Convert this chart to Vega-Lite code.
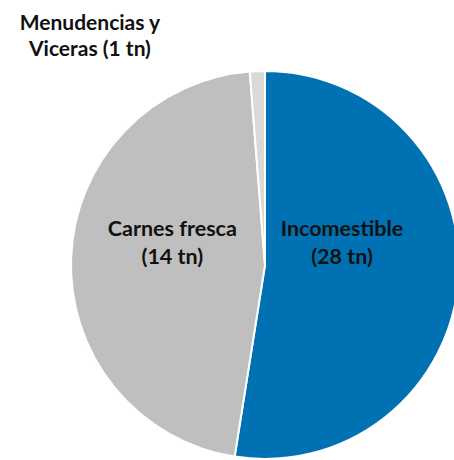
{
  "$schema": "https://vega.github.io/schema/vega-lite/v6.json",
  "width": 378,
  "height": 390,
  "autosize": "none",
  "padding": {"left": 76, "top": 70, "right": 0, "bottom": 0},
  "background": "white",
  "config": {"view": {"stroke": null}},
  "data": {
    "values": [
      {"idx": 1, "category": "Incomestible", "share": 52.5, "label": ["Incomestible", "(28 tn)"]},
      {"idx": 2, "category": "Carnes fresca", "share": 46.25, "label": ["Carnes fresca", "(14 tn)"]},
      {"idx": 3, "category": "Menudencias y Viceras", "share": 1.25, "label": ["Menudencias y", "Viceras (1 tn)"]}
    ]
  },
  "transform": [
    {"stack": "share", "groupby": [], "sort": [{"field": "idx"}], "as": ["t0", "t1"]}
  ],
  "layer": [
    {
      "mark": {"type": "arc", "radius": 194, "stroke": "white", "strokeWidth": 2},
      "encoding": {
        "theta": {"field": "t0", "type": "quantitative", "scale": {"domain": [0, 100]}},
        "theta2": {"field": "t1"},
        "color": {
          "field": "category",
          "type": "nominal",
          "scale": {"domain": ["Incomestible", "Carnes fresca", "Menudencias y Viceras"], "range": ["#0071B3", "#BFBFBF", "#D9D9D9"]},
          "legend": null
        }
      }
    },
    {
      "transform": [{"filter": "datum.idx == 1"}],
      "mark": {"type": "text", "radius": 21, "dx": 77, "dy": -14, "font": "Lato", "fontWeight": "bold", "fontSize": 21.5, "lineHeight": 28, "align": "center", "baseline": "middle", "color": "#111111"},
      "encoding": {
        "theta": {"field": "t0", "type": "quantitative", "stack": null, "scale": {"domain": [0, 100]}},
        "text": {"field": "label"}
      }
    },
    {
      "transform": [{"filter": "datum.idx == 2"}],
      "mark": {"type": "text", "radius": 21, "dx": -91, "dy": -14, "font": "Lato", "fontWeight": "bold", "fontSize": 21.5, "lineHeight": 28, "align": "center", "baseline": "middle", "color": "#111111"},
      "encoding": {
        "theta": {"field": "t1", "type": "quantitative", "stack": null, "scale": {"domain": [0, 100]}},
        "text": {"field": "label"}
      }
    },
    {
      "transform": [{"filter": "datum.idx == 3"}],
      "mark": {"type": "text", "radius": 230, "dx": -157, "dy": -12, "font": "Lato", "fontWeight": "bold", "fontSize": 21, "lineHeight": 26, "align": "center", "baseline": "middle", "color": "#111111"},
      "encoding": {
        "theta": {"field": "t0", "type": "quantitative", "stack": null, "scale": {"domain": [0, 100]}},
        "text": {"field": "label"}
      }
    }
  ]
}
